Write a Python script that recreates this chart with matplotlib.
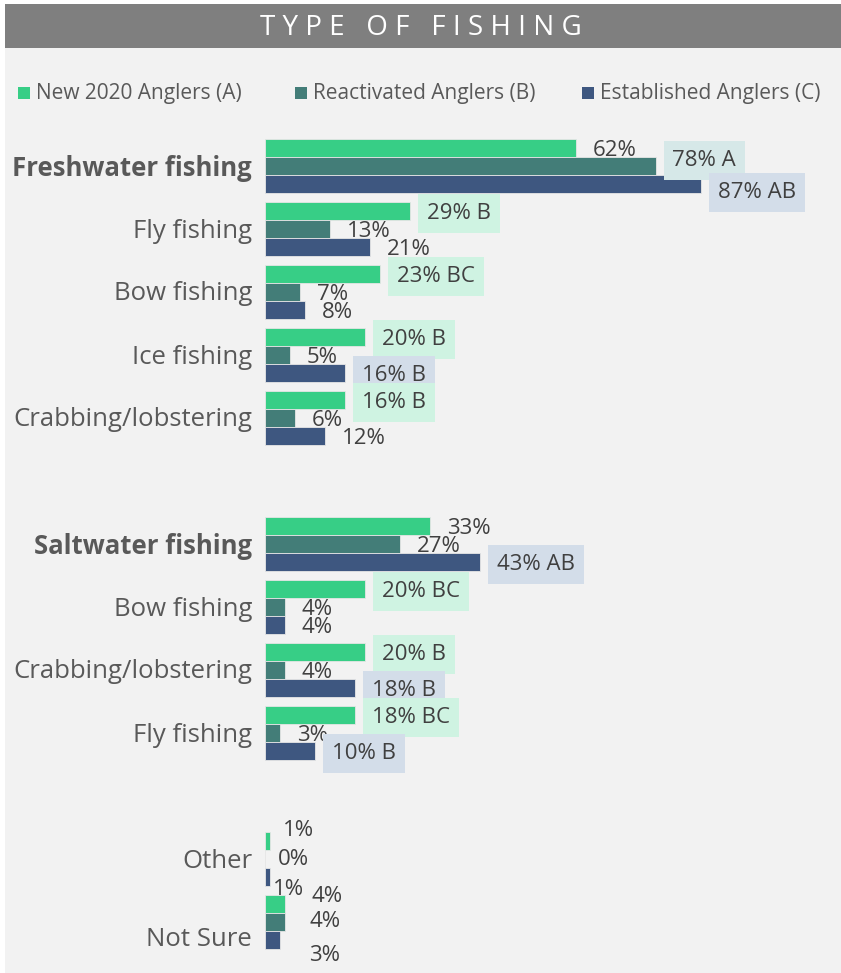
import matplotlib.pyplot as plt
from matplotlib.patches import Rectangle
from matplotlib.transforms import ScaledTranslation

# --- data -------------------------------------------------------------
categories = ["Freshwater fishing", "Fly fishing", "Bow fishing", "Ice fishing",
              "Crabbing/lobstering", "",
              "Saltwater fishing", "Bow fishing", "Crabbing/lobstering", "Fly fishing", "",
              "Other", "Not Sure"]
bold_cats = ["Freshwater fishing", "Saltwater fishing"]

series_names = ["New 2020 Anglers (A)", "Reactivated Anglers (B)", "Established Anglers (C)"]
new_2020 = [62, 29, 23, 20, 16, None, 33, 20, 20, 18, None, 1, 4]
reactivated = [78, 13, 7, 5, 6, None, 27, 4, 4, 3, None, 0, 4]
established = [87, 21, 8, 16, 12, None, 43, 4, 18, 10, None, 1, 3]

# significance letters (vs other groups)
sig_new = ["", "B", "BC", "B", "B", "", "", "BC", "B", "BC", "", "", ""]
sig_react = ["A", "", "", "", "", "", "", "", "", "", "", "", ""]
sig_estab = ["AB", "", "", "B", "", "", "AB", "", "B", "B", "", "", ""]

# --- style ------------------------------------------------------------
W, H = 841, 973
BG = "#f2f2f2"
colors = ["#37ce86", "#437d78", "#3e5780"]
box_colors = ["#cff3e2", "#d6e8e8", "#d3dde9"]
TXT = "#404040"
plt.rcParams["font.family"] = ["Open Sans", "DejaVu Sans"]

# label nudges (px) where the original shifted labels to dodge each other
label_nudge = {(0, 1): (0, -8), (0, 2): (0, 6),
               (11, 0): (-4, -13), (11, 1): (-4, -2), (11, 2): (-14, 10),
               (12, 0): (10, -10), (12, 1): (8, -3), (12, 2): (12, 13)}
cat_nudge = {12: 15}

fig = plt.figure(figsize=(W / 100, H / 100), dpi=100)
fig.patch.set_facecolor("white")


def fx(px):
    return px / W


def fy(py):
    return 1 - py / H


# light panel + title bar
fig.add_artist(Rectangle((fx(5), 0), 1 - fx(5), fy(4), transform=fig.transFigure,
                         facecolor=BG, edgecolor="none", zorder=0))
fig.add_artist(Rectangle((fx(5), fy(48)), 1 - fx(5), fy(4) - fy(48), transform=fig.transFigure,
                         facecolor="#7f7f7f", edgecolor="none", zorder=1))
fig.text(fx(421), fy(28), "T Y P E   O F   F I S H I N G", color="white", fontsize=20,
         ha="center", va="center", zorder=2)

# legend
leg_x = [18, 295, 582]
for name, c, x in zip(series_names, colors, leg_x):
    fig.add_artist(Rectangle((fx(x), fy(99)), fx(12), fy(87) - fy(99), transform=fig.transFigure,
                             facecolor=c, edgecolor="none", zorder=2))
    fig.text(fx(x + 18), fy(93), name, color="#595959", fontsize=15.0, ha="left", va="center")

# axes: slot i centred at 166 + 63*i px
top_px, bot_px = 166 - 31.5, 166 + 63 * 12.5
ax = fig.add_axes([fx(265), fy(bot_px), fx(501), fy(top_px) - fy(bot_px)])
ax.set_facecolor("none")
ax.set_xlim(0, 100)
ax.set_ylim(len(categories) - 0.5, -0.5)

bar_h = 18 / 63
offsets = [-bar_h, 0, bar_h]
all_vals = [new_2020, reactivated, established]
all_sig = [sig_new, sig_react, sig_estab]

for j, vals in enumerate(all_vals):
    for i, v in enumerate(vals):
        if v is None:
            continue
        ax.barh(i + offsets[j], v, height=bar_h, color=colors[j],
                edgecolor="#e6e6e6", linewidth=0.6, zorder=2)

# value labels, drawn top to bottom so lower boxes sit on top
for i in range(len(categories)):
    for j in range(3):
        v = all_vals[j][i]
        if v is None:
            continue
        sig = all_sig[j][i]
        label = f"{v}%" + (f" {sig}" if sig else "")
        bbox = None
        if sig:
            bbox = dict(boxstyle="square,pad=0.4", facecolor=box_colors[j], edgecolor="none")
        dx, dy = label_nudge.get((i, j), (0, 0))
        ax.annotate(label, (v, i + offsets[j]),
                    xytext=(12 + dx * 0.72, -2 - dy * 0.72), textcoords="offset points",
                    ha="left", va="center", fontsize=16, color=TXT, bbox=bbox,
                    annotation_clip=False, zorder=3)

# category labels
shift = ScaledTranslation(-13 / 100, -2 / 100, fig.dpi_scale_trans)
for i, cat in enumerate(categories):
    if not cat:
        continue
    tr = ax.get_yaxis_transform() + shift
    tr = tr + ScaledTranslation(0, -cat_nudge.get(i, 0) / 100, fig.dpi_scale_trans)
    ax.text(0, i, cat, transform=tr, ha="right", va="center", fontsize=18.5,
            color="#595959", fontweight="bold" if cat in bold_cats else "normal")

ax.set_xticks([])
ax.set_yticks([])
for s in ax.spines.values():
    s.set_visible(False)

fig.savefig("out.png", dpi=100, facecolor=fig.get_facecolor())
